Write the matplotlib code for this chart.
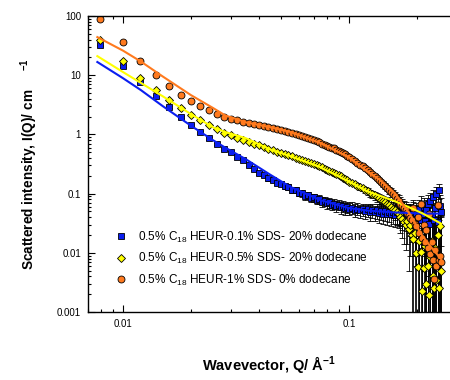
import numpy as np
import matplotlib
matplotlib.use("Agg")
import matplotlib.pyplot as plt
from matplotlib.ticker import LogLocator, NullFormatter, FixedLocator, FixedFormatter

plt.rcParams['font.family'] = ['Liberation Sans', 'DejaVu Sans']
plt.rcParams['mathtext.fontset'] = 'custom'
plt.rcParams['mathtext.rm'] = 'Liberation Sans'
plt.rcParams['mathtext.bf'] = 'Liberation Sans:bold'

# SANS data: wavevector Q (1/A) and scattered intensity I(Q) (1/cm)
q = [0.0079, 0.0100, 0.0119, 0.0140, 0.0160, 0.0180, 0.0200, 0.0220, 0.0240, 0.0260,
     0.028, 0.030, 0.032, 0.034, 0.036, 0.038, 0.040, 0.042, 0.044, 0.046,
     0.048, 0.050, 0.052, 0.054, 0.056, 0.058, 0.060, 0.062, 0.064, 0.066,
     0.068, 0.070, 0.072, 0.074, 0.076, 0.078, 0.080, 0.082, 0.084, 0.086,
     0.088, 0.090, 0.092, 0.094, 0.096, 0.098, 0.100,
     0.103, 0.106, 0.109, 0.112, 0.115, 0.118, 0.121, 0.124, 0.127, 0.130,
     0.133, 0.136, 0.139, 0.142, 0.145, 0.148, 0.151, 0.154, 0.157, 0.160,
     0.163, 0.166, 0.169, 0.172, 0.175, 0.178, 0.181, 0.184, 0.187, 0.190,
     0.193, 0.196, 0.199, 0.202, 0.205, 0.208, 0.211, 0.214, 0.217, 0.220,
     0.223, 0.226, 0.229, 0.232, 0.235, 0.238, 0.241, 0.244, 0.247, 0.250,
     0.253, 0.256]

i_sds01 = [32, 14.5, 7.6, 4.4, 2.9, 2.0, 1.45, 1.08, 0.86, 0.69,
           0.57, 0.50, 0.42, 0.375, 0.31, 0.265, 0.225, 0.21, 0.18, 0.172,
           0.152, 0.148, 0.132, 0.130, 0.116, 0.114, 0.103, 0.102, 0.092, 0.093,
           0.085, 0.086, 0.079, 0.080, 0.073, 0.075, 0.069, 0.071, 0.065, 0.068,
           0.062, 0.065, 0.059, 0.062, 0.057, 0.060, 0.056,
           0.058, 0.053, 0.056, 0.052, 0.055, 0.050, 0.054, 0.049, 0.053, 0.048,
           0.052, 0.047, 0.051, 0.046, 0.050, 0.046, 0.049, 0.045, 0.048, 0.044,
           0.048, 0.044, 0.047, 0.043, 0.047, 0.042, 0.046, 0.042, 0.047, 0.041,
           0.050, 0.040, 0.047, 0.038, 0.055, 0.036, 0.045, 0.060, 0.034, 0.052,
           0.068, 0.031, 0.075, 0.042, 0.088, 0.036, 0.058, 0.098, 0.033, 0.115,
           0.062, 0.048]

i_sds05 = [40, 17.5, 9.0, 5.6, 3.8, 2.8, 2.15, 1.72, 1.42, 1.22,
           1.07, 0.96, 0.88, 0.81, 0.75, 0.70, 0.65, 0.61, 0.57, 0.54,
           0.51, 0.485, 0.465, 0.445, 0.425, 0.405, 0.39, 0.37, 0.355, 0.34,
           0.325, 0.312, 0.30, 0.288, 0.276, 0.265, 0.254, 0.243, 0.233, 0.223,
           0.213, 0.204, 0.195, 0.186, 0.177, 0.168, 0.160,
           0.153, 0.145, 0.137, 0.129, 0.122, 0.115, 0.109, 0.103, 0.098, 0.093,
           0.088, 0.083, 0.079, 0.075, 0.071, 0.067, 0.063, 0.060, 0.056, 0.053,
           0.049, 0.046, 0.040, 0.037, 0.033, 0.030, 0.034, 0.025, 0.029, 0.020,
           0.017, 0.022, 0.010, 0.0058, 0.016, 0.0105, 0.0023, 0.0056, 0.013, 0.0030,
           0.0060, 0.0019, 0.0085, 0.016, 0.0040, 0.0025, 0.012, 0.0035, 0.020, 0.0025,
           0.028, 0.0050]

i_sds1 = [89, 36, 17.5, 10.2, 6.6, 4.7, 3.7, 3.0, 2.55, 2.2,
          1.98, 1.84, 1.73, 1.64, 1.56, 1.49, 1.43, 1.38, 1.33, 1.28,
          1.24, 1.19, 1.15, 1.11, 1.07, 1.03, 0.99, 0.95, 0.91, 0.87,
          0.84, 0.80, 0.77, 0.73, 0.70, 0.67, 0.645, 0.62, 0.60, 0.58,
          0.555, 0.53, 0.51, 0.485, 0.46, 0.435, 0.41,
          0.385, 0.36, 0.335, 0.31, 0.29, 0.27, 0.25, 0.23, 0.215, 0.20,
          0.185, 0.17, 0.158, 0.146, 0.135, 0.125, 0.115, 0.106, 0.098, 0.090,
          0.082, 0.075, 0.068, 0.062, 0.057, 0.052, 0.047, 0.043, 0.039, 0.036,
          0.057, 0.031, 0.028, 0.040, 0.022, 0.068, 0.018, 0.030, 0.015, 0.024,
          0.012, 0.045, 0.0095, 0.015, 0.0075, 0.0036, 0.011, 0.0059, 0.064, 0.0075,
          0.009, 0.0070]

# absolute uncertainty (background dominated, common to the three samples)
d_i = [1.0, 0.5, 0.3, 0.2, 0.12, 0.08, 0.06, 0.05, 0.04, 0.035,
       0.03, 0.026, 0.023, 0.021, 0.019, 0.017, 0.016, 0.015, 0.014, 0.014,
       0.013, 0.013, 0.013, 0.013, 0.013, 0.013, 0.013, 0.013, 0.013, 0.013,
       0.013, 0.013, 0.013, 0.013, 0.013, 0.013, 0.013, 0.013, 0.013, 0.013,
       0.013, 0.013, 0.013, 0.013, 0.013, 0.013, 0.013,
       0.013, 0.013, 0.013, 0.013, 0.013, 0.013, 0.014, 0.014, 0.014, 0.014,
       0.015, 0.015, 0.015, 0.015, 0.016, 0.016, 0.016, 0.017, 0.017, 0.017,
       0.018, 0.018, 0.018, 0.019, 0.019, 0.019, 0.020, 0.020, 0.020, 0.021,
       0.021, 0.022, 0.022, 0.023, 0.023, 0.024, 0.024, 0.025, 0.025, 0.026,
       0.026, 0.027, 0.027, 0.028, 0.028, 0.029, 0.030, 0.031, 0.032, 0.033,
       0.034, 0.035]

# model fits
q_fit = [0.0077, 0.0100, 0.0120, 0.0150, 0.0200, 0.0250, 0.0283, 0.0350, 0.0447, 0.0550,
         0.0745, 0.1000, 0.1200, 0.1370, 0.1600, 0.1860, 0.2100, 0.2300, 0.2560]
fit_sds01 = [16.7, 8.9, 5.6, 3.0, 1.4, 0.80, 0.60, 0.38, 0.21, 0.13,
             0.078, 0.057, 0.052, 0.050, 0.048, 0.047, 0.046, 0.046, 0.046]
fit_sds05 = [21, 11.3, 7.4, 4.4, 2.2, 1.32, 1.1, 0.86, 0.56, 0.43,
             0.28, 0.16, 0.11, 0.092, 0.074, 0.058, 0.047, 0.039, 0.031]
fit_sds1 = [44, 26, 17, 9.5, 4.6, 2.8, 2.1, 1.6, 1.33, 1.1,
            0.72, 0.41, 0.24, 0.17, 0.10, 0.045, 0.020, 0.0127, 0.0078]

labels = ['0.5% C$_{18}$ HEUR-0.1% SDS- 20% dodecane',
          '0.5% C$_{18}$ HEUR-0.5% SDS- 20% dodecane',
          '0.5% C$_{18}$ HEUR-1% SDS- 0% dodecane']

blue = '#0a1ef0'
yellow = '#ffff00'
orange = '#ff7a1e'

fig = plt.figure(figsize=(4.5, 3.8), dpi=100)
ax = fig.add_axes([88 / 450, 1 - 312 / 380, 362 / 450, 296 / 380])

q = np.array(q)
d_i = np.array(d_i)
series = [(np.array(i_sds01), 's', blue, 4.3),
          (np.array(i_sds05), 'D', yellow, 4.3),
          (np.array(i_sds1), 'o', orange, 5.0)]

# error bars first so the markers sit on top
for vals, m, c, ms in series:
    lower = np.where(vals - d_i > 0, d_i, vals - 1e-6)
    ax.errorbar(q, vals, yerr=[lower, d_i], fmt='none', ecolor='black',
                elinewidth=0.6, capsize=2.2, capthick=0.6, zorder=1)

handles = []
for (vals, m, c, ms), lab in zip(series, labels):
    h, = ax.plot(q, vals, ls='none', marker=m, ms=ms, mfc=c, mec='black',
                 mew=0.6, zorder=2, label=lab)
    handles.append(h)

ax.plot(q_fit, fit_sds01, color=blue, lw=1.5, zorder=5)
ax.plot(q_fit, fit_sds05, color=yellow, lw=1.5, zorder=5)
ax.plot(q_fit, fit_sds1, color=orange, lw=1.5, zorder=5)

ax.set_xscale('log')
ax.set_yscale('log')
ax.set_xlim(0.0070, 0.280)
ax.set_ylim(0.001, 100)

ax.xaxis.set_major_locator(FixedLocator([0.01, 0.1]))
ax.xaxis.set_major_formatter(FixedFormatter(['0.01', '0.1']))
ax.xaxis.set_minor_locator(LogLocator(base=10, subs=np.arange(2, 10)))
ax.xaxis.set_minor_formatter(NullFormatter())
ax.yaxis.set_major_locator(FixedLocator([0.001, 0.01, 0.1, 1, 10, 100]))
ax.yaxis.set_major_formatter(FixedFormatter(['0.001', '0.01', '0.1', '1', '10', '100']))
ax.yaxis.set_minor_locator(LogLocator(base=10, subs=np.arange(2, 10)))
ax.yaxis.set_minor_formatter(NullFormatter())

ax.tick_params(which='both', direction='in', top=True, right=False, labelsize=7, width=0.8)
ax.tick_params(which='major', length=5, pad=5)
ax.tick_params(which='minor', length=2.5)
ax.spines['right'].set_visible(False)
for s in ['left', 'top', 'bottom']:
    ax.spines[s].set_linewidth(1.0)

ax.set_xlabel('Wavevector, Q/ Å$^{\\mathbf{-1}}$', fontsize=10.5, fontweight='bold', labelpad=18)
ax.set_ylabel('Scattered intensity, I(Q)/ cm     $^{\\mathbf{-1}}$', fontsize=9.8,
              fontweight='bold', labelpad=12)

ax.legend(handles=handles, loc='upper left', bbox_to_anchor=(0.062, 0.295), frameon=False,
          fontsize=8.5, handlelength=1.0, handletextpad=0.9, labelspacing=0.55,
          borderaxespad=0)

fig.savefig('out.png', dpi=100)
